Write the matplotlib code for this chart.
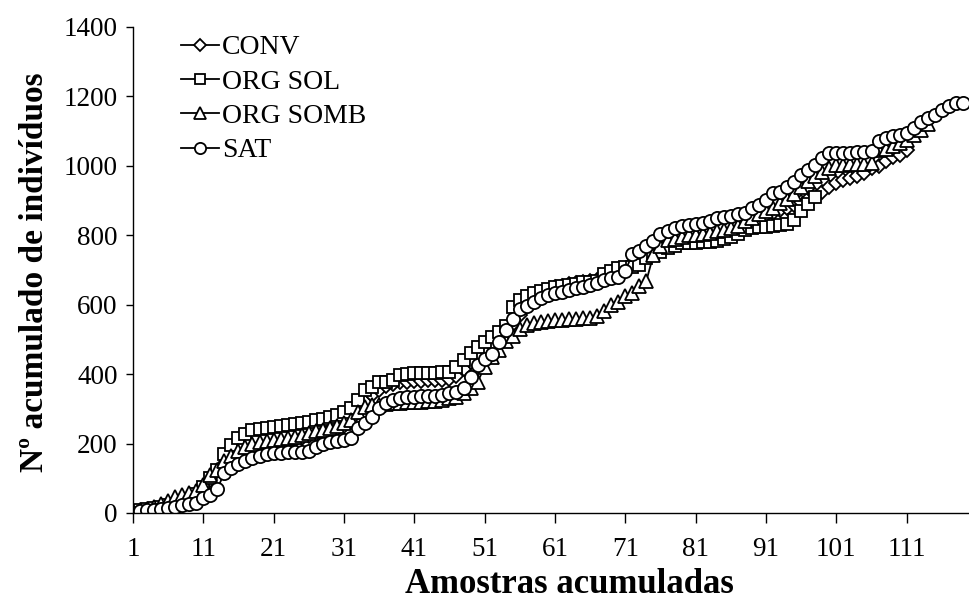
import matplotlib
matplotlib.use("Agg")
import matplotlib.pyplot as plt

plt.rcParams['font.family'] = ['Liberation Serif', 'DejaVu Serif']

conv = [2, 6, 10, 14, 18, 24, 30, 36, 42, 50, 70, 95, 120, 140, 155, 165, 175, 185, 190, 195,
        198, 200, 205, 210, 215, 222, 228, 233, 238, 242, 250, 270, 295, 320, 340, 355, 365, 372, 376, 378,
        380, 381, 382, 383, 384, 385, 395, 415, 435, 455, 470, 485, 505, 525, 545, 570, 595, 615, 630, 640,
        650, 655, 660, 662, 665, 668, 670, 675, 680, 690, 700, 720, 735, 750, 765, 780, 790, 798, 803, 808,
        812, 815, 818, 820, 823, 826, 830, 835, 842, 850, 858, 865, 872, 880, 888, 895, 905, 915, 925, 938,
        950, 960, 966, 970, 980, 993, 1000, 1015, 1025, 1030, 1045]

org_sol = [2, 8, 12, 15, 18, 22, 26, 32, 40, 55, 75, 100, 125, 170, 195, 215, 228, 238, 243, 245,
           247, 250, 254, 255, 259, 262, 268, 272, 277, 282, 291, 302, 325, 354, 363, 377, 378, 383, 398, 400,
           403, 403, 404, 404, 405, 406, 421, 441, 461, 479, 494, 508, 520, 540, 592, 615, 626, 633, 640, 645,
           650, 653, 656, 660, 664, 666, 668, 688, 697, 706, 708, 710, 714, 734, 743, 752, 762, 770, 778, 778,
           779, 780, 782, 783, 790, 795, 805, 815, 820, 823, 825, 827, 830, 832, 845, 870, 890, 910]

org_somb = [3, 8, 12, 18, 25, 35, 45, 52, 58, 62, 80, 110, 125, 150, 165, 180, 190, 200, 205, 207,
            210, 212, 216, 220, 225, 230, 235, 240, 245, 250, 258, 268, 290, 305, 310, 312, 314, 316, 318, 319,
            320, 321, 322, 324, 326, 330, 335, 345, 360, 378, 420, 450, 470, 495, 510, 530, 542, 547, 550, 553,
            555, 557, 558, 560, 561, 563, 567, 583, 598, 608, 625, 634, 654, 669, 744, 770, 785, 790, 795, 800,
            802, 805, 808, 812, 815, 820, 828, 840, 850, 860, 870, 880, 892, 905, 920, 940, 955, 970, 982, 995,
            1002, 1003, 1004, 1005, 1006, 1009, 1046, 1050, 1057, 1065, 1075, 1088, 1104, 1120]

sat = [0, 5, 8, 10, 12, 15, 18, 22, 26, 30, 42, 52, 70, 115, 130, 141, 150, 158, 164, 170,
       172, 173, 175, 175, 176, 178, 190, 198, 205, 208, 210, 216, 245, 260, 277, 302, 316, 325, 330, 333,
       335, 336, 337, 338, 340, 345, 350, 360, 392, 426, 445, 458, 494, 527, 560, 588, 597, 609, 619, 628,
       633, 638, 643, 648, 652, 657, 663, 670, 677, 681, 697, 746, 755, 769, 784, 804, 812, 822, 827, 831,
       833, 836, 840, 850, 852, 855, 860, 865, 879, 888, 903, 922, 925, 940, 954, 974, 989, 1003, 1023, 1037,
       1037, 1038, 1038, 1039, 1040, 1043, 1072, 1080, 1085, 1090, 1095, 1110, 1125, 1138, 1147, 1161, 1172, 1180, 1182]

series = [
    ("CONV", conv, "D", 7.5),
    ("ORG SOL", org_sol, "s", 8.5),
    ("ORG SOMB", org_somb, "^", 9.5),
    ("SAT", sat, "o", 9.5),
]

fig = plt.figure(figsize=(9.7, 6.0), dpi=100)
ax = fig.add_axes([0.137, 0.145, 0.863, 0.81])

for name, vals, mk, ms in series:
    x = list(range(1, len(vals) + 1))
    ax.plot(x, vals, color="black", lw=1.3, marker=mk, markersize=ms,
            markerfacecolor="white", markeredgecolor="black", markeredgewidth=1.3,
            label=name)

ax.set_xlim(1, 120)
ax.set_ylim(0, 1400)
ax.set_xticks(range(1, 120, 10))
ax.set_yticks(range(0, 1401, 200))
ax.tick_params(axis="both", labelsize=19.5, colors="black", width=1)
ax.tick_params(axis="x", length=7, pad=10)
ax.tick_params(axis="y", length=5, pad=6)
for s in ["top", "right"]:
    ax.spines[s].set_visible(False)
for s in ["left", "bottom"]:
    ax.spines[s].set_linewidth(1)

ax.set_xlabel("Amostras acumuladas", fontsize=25, fontweight="bold", va="center")
ax.xaxis.set_label_coords(0.522, -0.148)
ax.set_ylabel("Nº acumulado de indivíduos", fontsize=24, fontweight="bold", va="center")
ax.yaxis.set_label_coords(-0.117, 0.496)

ax.legend(loc="upper left", bbox_to_anchor=(0.028, 1.035), frameon=False, fontsize=20,
          handlelength=1.35, handletextpad=0.12, labelspacing=0.32, numpoints=1,
          markerscale=0.85)

fig.savefig("out.png", dpi=100)
